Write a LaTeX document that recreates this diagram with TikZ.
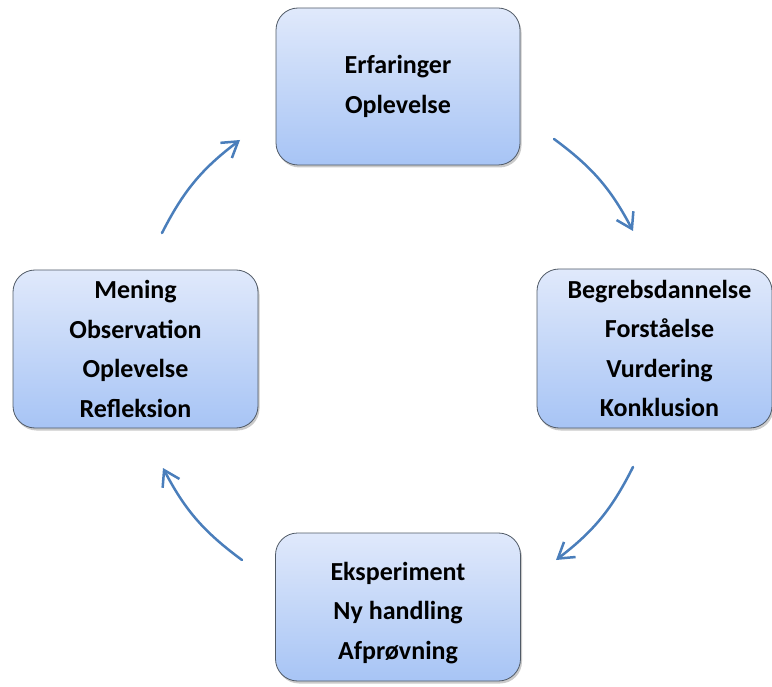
\documentclass[tikz,border=0pt]{standalone}
\usepackage{fontspec}
\setmainfont{Carlito}
\usetikzlibrary{arrows.meta,shadows}
\definecolor{boxtop}{HTML}{E0E9FB}
\definecolor{boxbot}{HTML}{A7C4F5}
\definecolor{boxline}{HTML}{505A66}
\definecolor{arrowblue}{HTML}{4A7EBB}
\tikzset{
  stagetext/.style={align=center, inner sep=0pt,
    font=\bfseries\fontsize{26}{39.5}\selectfont},
  stage/.style={stagetext, rectangle, rounded corners=22pt, draw=boxline, line width=0.8pt,
    top color=boxtop, bottom color=boxbot,
    drop shadow={shadow xshift=1.5pt, shadow yshift=-2.5pt, opacity=0.35, fill=black!60}},
  cyclearrow/.style={draw=arrowblue, line width=2.5pt, line cap=round,
    -{Straight Barb[length=15pt,width=19pt,line width=2.5pt]}, bend left=13}
}
\begin{document}
\begin{tikzpicture}[x=1pt,y=-1pt]
\useasboundingbox (0,0) rectangle (772,687);

% the four stages of the cycle
\node[stage, minimum width=244pt, minimum height=157pt] (top) at (398,86.5)
  {Erfaringer\\Oplevelse};
\node[stage, minimum width=235pt, minimum height=159pt] (right) at (654.5,348.5)
  {\hspace*{10pt}Begrebsdannelse\\\hspace*{10pt}Forståelse\\\hspace*{10pt}Vurdering\\\hspace*{10pt}Konklusion};
\node[stage, minimum width=245pt, minimum height=158pt] (left) at (135.5,349)
  {Mening\\Observation\\Oplevelse\\Refleksion};
\node[stage, minimum width=245pt, minimum height=148pt] (bottom) at (398,607) {};
\node[stagetext] (bottomtext) at (398,613) {Eksperiment\\Ny handling\\Afprøvning};

% arrow end points between the stages
\coordinate (tr1) at (554,139);  \coordinate (tr2) at (633,231);
\coordinate (rb1) at (633,467);  \coordinate (rb2) at (556,560);
\coordinate (bl1) at (242,560);  \coordinate (bl2) at (163,468);
\coordinate (lt1) at (162,233);  \coordinate (lt2) at (240,140);

\draw[cyclearrow] (tr1) to (tr2);
\draw[cyclearrow] (rb1) to (rb2);
\draw[cyclearrow] (bl1) to (bl2);
\draw[cyclearrow] (lt1) to (lt2);
\end{tikzpicture}
\end{document}
